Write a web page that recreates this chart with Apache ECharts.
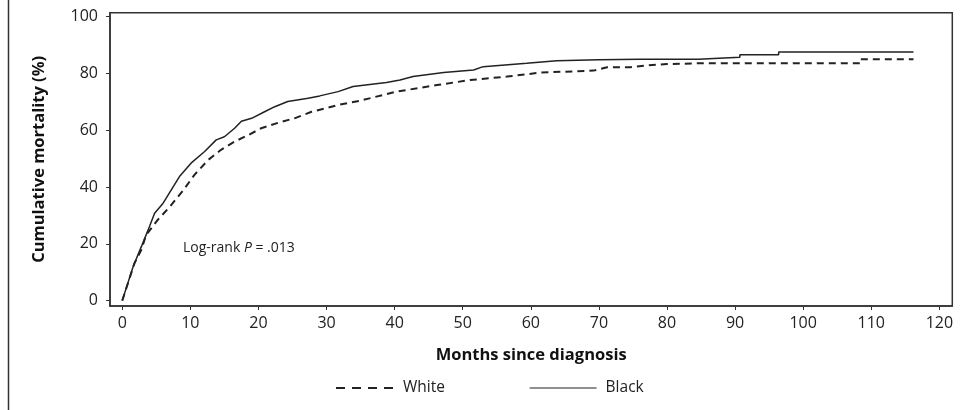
<!DOCTYPE html>
<html>
<head>
<meta charset="utf-8">
<script src="https://cdn.jsdelivr.net/npm/echarts@6/dist/echarts.min.js"></script>
<style>html,body{margin:0;padding:0;background:#fff;}#c{width:962px;height:410px;}</style>
</head>
<body>
<div id="c"></div>
<script>
// Data (months, cumulative mortality %)
var blackCurve = [[0,0],[1.6,12],[2.8,19],[3.8,24.9],[4.75,30.8],[6.0,34.3],[7.2,39],[8.4,43.7],[10.1,48.4],[12.1,52.5],[13.8,56.6],[15.0,57.7],[16.5,60.7],[17.5,63.2],[19.0,64.2],[20.9,66.5],[22.4,68.3],[24.3,70.1],[27.3,71.3],[29.0,72.1],[31.7,73.6],[33.9,75.4],[38.8,76.8],[40.8,77.7],[42.7,78.9],[47.2,80.3],[51.6,81.2],[53.0,82.4],[59.4,83.6],[63.8,84.5],[70,84.8],[76,85.0],[84.6,85.0],[84.6,85.7],[90.7,85.7],[90.7,86.6],[96.4,86.6],[96.4,87.6],[116.2,87.6]];
var whiteCurve = [[0,0],[1.8,13.2],[2.8,17.9],[3.5,23.1],[5.2,28.4],[7.0,33.1],[9.0,39.0],[10.6,44.3],[12.6,49.5],[14.5,53.1],[16.5,56],[18.5,58.3],[20.4,60.7],[23.4,63],[25.3,64.2],[27.8,66.5],[31.7,68.9],[34.9,70.4],[40.3,73.6],[46.2,75.9],[51.1,77.7],[56.5,78.9],[61.4,80.3],[69.2,81.0],[71.2,82.2],[74.6,82.2],[77,82.8],[80,83.3],[84.9,83.6],[108.4,83.6],[108.4,85.0],[116.2,85.0]];
var xTicks = [0,10,20,30,40,50,60,70,80,90,100,110,120];
var yTicks = [0,20,40,60,80,100];
var seriesNames = ['White','Black'];

var FONT = 'Open Sans';
var chart = echarts.init(document.getElementById('c'));
chart.setOption({
  animation: false,
  backgroundColor: '#fff',
  textStyle: {fontFamily: FONT},
  grid: {left: 110, right: 9.7, top: 12.7, bottom: 104, show: true, borderColor: '#333', borderWidth: 1.5},
  xAxis: {
    type: 'value', min: -1.8, max: 121.9,
    name: 'Months since diagnosis', nameLocation: 'middle', nameGap: 41,
    nameTextStyle: {fontFamily: FONT, fontSize: 16.5, fontWeight: 'bold', color: '#111'},
    axisLine: {show: true, onZero: false, lineStyle: {color: '#333', width: 1.5}},
    axisTick: {show: true, length: 4, customValues: xTicks, lineStyle: {color: '#333', width: 1}},
    axisLabel: {customValues: xTicks, margin: 9, fontSize: 16, color: '#222', fontFamily: FONT},
    splitLine: {show: false}
  },
  yAxis: {
    type: 'value', min: -1.9, max: 101.4,
    name: 'Cumulative mortality (%)', nameLocation: 'middle', nameGap: 62,
    nameTextStyle: {fontFamily: FONT, fontSize: 16.5, fontWeight: 'bold', color: '#111'},
    axisLine: {show: true, onZero: false, lineStyle: {color: '#333', width: 1.5}},
    axisTick: {show: true, length: 4, customValues: yTicks, lineStyle: {color: '#333', width: 1}},
    axisLabel: {customValues: yTicks, margin: 12, fontSize: 16, color: '#222', fontFamily: FONT},
    splitLine: {show: false}
  },
  legend: [
    {data: [seriesNames[0]], left: 335, top: 380, padding: 0, itemWidth: 58, itemHeight: 14,
     itemStyle: {opacity: 0}, lineStyle: {type: [9,7], width: 2},
     textStyle: {fontSize: 15.5, color: '#222', fontFamily: FONT, padding: [0,0,0,4]}},
    {data: [seriesNames[1]], left: 529, top: 380, padding: 0, itemWidth: 67, itemHeight: 14,
     itemStyle: {opacity: 0}, lineStyle: {width: 1.2},
     textStyle: {fontSize: 15.5, color: '#222', fontFamily: FONT, padding: [0,0,0,4]}}
  ],
  series: [
    {name: seriesNames[0], type: 'line', data: whiteCurve, symbol: 'none',
     lineStyle: {color: '#222', width: 2, type: [7,5]}, itemStyle: {color: '#222'}},
    {name: seriesNames[1], type: 'line', data: blackCurve, symbol: 'none',
     lineStyle: {color: '#222', width: 1.5, type: 'solid'}, itemStyle: {color: '#222'}}
  ],
  graphic: [
    {type: 'line', shape: {x1: 8.5, y1: 0, x2: 8.5, y2: 410}, style: {stroke: '#333', lineWidth: 1.5}},
    {type: 'text', left: 183, top: 241, style: {
      text: '{a|Log-rank }{b|P}{a| = .013}',
      rich: {a: {fontSize: 14, fontFamily: FONT, fill: '#222'}, b: {fontSize: 14, fontFamily: FONT, fontStyle: 'italic', fill: '#222'}}
    }}
  ]
});
</script>
</body>
</html>
